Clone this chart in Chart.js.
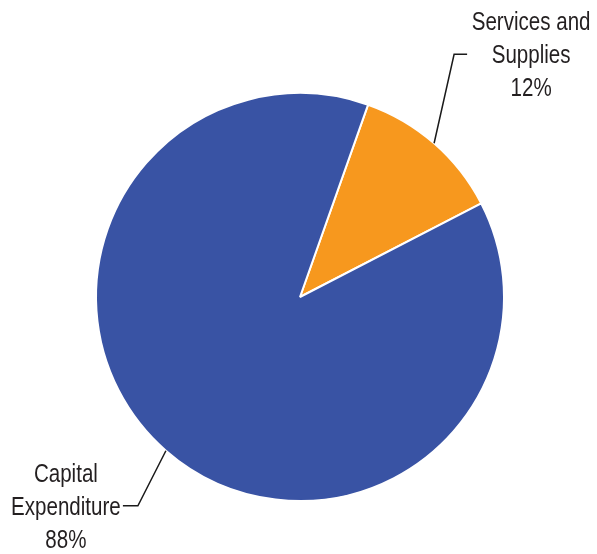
<!DOCTYPE html>
<html>
<head>
<meta charset="utf-8">
<script src="https://cdn.jsdelivr.net/npm/chart.js@4.4.0/dist/chart.umd.min.js"></script>
<style>
  html, body { margin: 0; padding: 0; background: #fff; }
  #wrap { width: 597px; height: 554px; }
</style>
</head>
<body>
<div id="wrap"><canvas id="myChart"></canvas></div>
<script>
// データ
const categories = ['Services and Supplies', 'Capital Expenditure'];
const labelLines = [['Services and', 'Supplies'], ['Capital', 'Expenditure']];
const shares = [12, 88];
const colors = ['#F7981E', '#3953A4'];

// 引き出し線とラベル (折れ点と文字の位置は弧の中心からのずれ)
const calloutPlugin = {
  id: 'callout',
  afterDatasetsDraw(chart, args, opts) {
    const ctx = chart.ctx;
    const meta = chart.getDatasetMeta(0);
    meta.data.forEach((arc, i) => {
      const p = arc.getProps(['x', 'y', 'startAngle', 'endAngle', 'outerRadius'], true);
      const mid = (p.startAngle + p.endAngle) / 2;
      const sx = p.x + Math.cos(mid) * p.outerRadius;
      const sy = p.y + Math.sin(mid) * p.outerRadius;
      const o = opts.items[i];
      const ex = sx + o.elbow[0];
      const ey = sy + o.elbow[1];
      ctx.save();
      ctx.strokeStyle = '#1a1a1a';
      ctx.lineWidth = 1.5;
      ctx.beginPath();
      ctx.moveTo(sx, sy);
      ctx.lineTo(ex, ey);
      ctx.lineTo(ex + o.tail, ey);
      ctx.stroke();

      const lines = labelLines[i].concat([shares[i] + '%']);
      const tx = ex + o.text;
      ctx.fillStyle = '#231F20';
      ctx.font = '26px "Liberation Sans", Arial, sans-serif';
      ctx.textAlign = 'center';
      ctx.textBaseline = 'middle';
      lines.forEach((t, k) => {
        ctx.save();
        ctx.translate(tx, ey + 2 + (k - 1) * 33);
        ctx.scale(0.79, 1);
        ctx.fillText(t, 0, 0);
        ctx.restore();
      });
      ctx.restore();
    });
  }
};

const ctx = document.getElementById('myChart');

new Chart(ctx, {
  type: 'pie',
  data: {
    labels: categories,
    datasets: [{
      data: shares,
      backgroundColor: colors,
      borderColor: '#ffffff',
      borderWidth: 2
    }]
  },
  options: {
    responsive: true,
    maintainAspectRatio: false,
    animation: false,
    rotation: 19.5,
    layout: { padding: { top: 92, bottom: 52, left: 95, right: 92 } },
    plugins: {
      legend: { display: false },
      tooltip: { enabled: false },
      callout: {
        items: [
          { elbow: [20, -89], tail: 13, text: 77 },
          { elbow: [-28, 55], tail: -15, text: -72 }
        ]
      }
    }
  },
  plugins: [calloutPlugin]
});
</script>
</body>
</html>
